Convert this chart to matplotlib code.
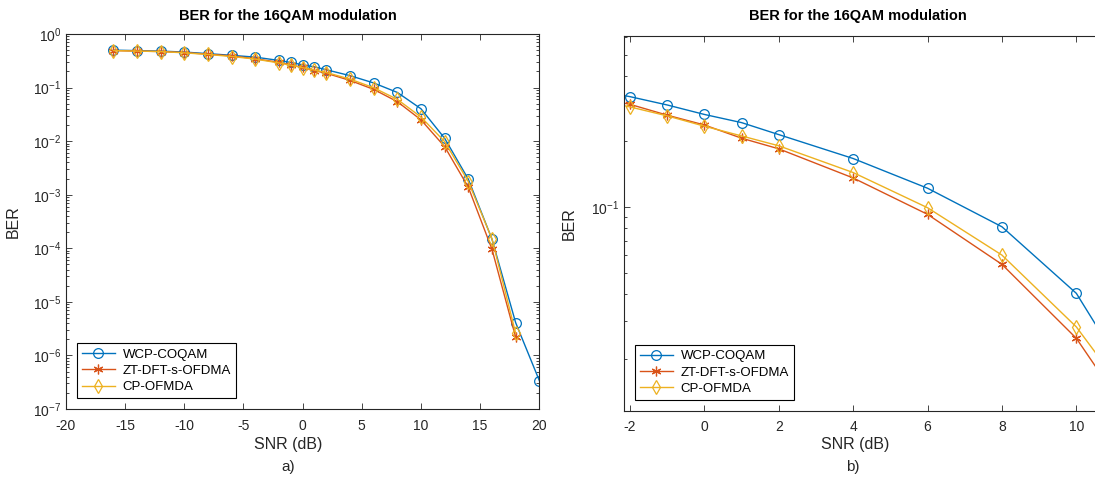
import numpy as np
import matplotlib
matplotlib.use("Agg")
import matplotlib.pyplot as plt
from matplotlib.ticker import LogLocator, NullFormatter

plt.rcParams['font.family'] = ['Liberation Sans', 'DejaVu Sans']
plt.rcParams['axes.unicode_minus'] = False

# SNR points (dB) and BER
snr = [-16, -14, -12, -10, -8, -6, -4, -2, -1, 0, 1, 2, 4, 6, 8, 10, 12, 14, 16, 18, 20]
ber_wcp = [0.50, 0.49, 0.48, 0.46, 0.43, 0.40, 0.37, 0.321, 0.294, 0.266, 0.244, 0.215,
           0.167, 0.122, 0.0812, 0.0402, 0.0113, 1.95e-3, 1.48e-4, 4.1e-6, 3.4e-7]
ber_zt = [0.49, 0.48, 0.47, 0.45, 0.42, 0.39, 0.345, 0.296, 0.264, 0.238, 0.207, 0.185,
          0.136, 0.0926, 0.0546, 0.025, 0.0079, 1.38e-3, 9.6e-5, 2.2e-6]
ber_cp = [0.49, 0.48, 0.47, 0.445, 0.415, 0.38, 0.34, 0.288, 0.262, 0.235, 0.212, 0.191,
          0.144, 0.0993, 0.0602, 0.0282, 0.0098, 1.76e-3, 1.5e-4, 2.6e-6]

labels = ['WCP-COQAM', 'ZT-DFT-s-OFDMA', 'CP-OFMDA']
colors = ['#0072BD', '#D95319', '#EDB120']
markers = ['o', (6, 2, 0), 'd']
title = 'BER for the 16QAM modulation'
dark = '#262626'

fig = plt.figure(figsize=(10.95, 4.79), dpi=100)
W, H = 1095, 479
ax1 = fig.add_axes([66 / W, (H - 409) / H, 473.3 / W, 375 / H])
ax2 = fig.add_axes([624 / W, (H - 410.7) / H, 14.16 * 37.2 / W, 375 / H])


def draw(ax):
    series = [ber_wcp, ber_zt, ber_cp]
    for ber, lab, c, m in zip(series, labels, colors, markers):
        ax.plot(snr[:len(ber)], ber, color=c, marker=m, markersize=7,
                markerfacecolor='none', markeredgewidth=0.9, linewidth=1.0, label=lab)
    ax.set_yscale('log')
    ax.tick_params(which='both', direction='in', top=True, right=True,
                   colors=dark, labelsize=10, width=0.6)
    ax.tick_params(which='major', length=4)
    ax.tick_params(which='minor', length=2)
    ax.tick_params(axis='x', pad=7)
    for s in ax.spines.values():
        s.set_color(dark)
        s.set_linewidth(0.8)
    ax.set_ylabel('BER', fontsize=11.5, color=dark)
    leg = ax.legend(loc='lower left', fontsize=9.5, fancybox=False, framealpha=1,
                    edgecolor='black', borderaxespad=0.8, handlelength=2.5,
                    handletextpad=0.6, borderpad=0.4, labelspacing=0.3)
    leg.get_frame().set_linewidth(0.8)


draw(ax1)
ax1.set_xlim(-20, 20)
ax1.set_ylim(1e-7, 1)
ax1.set_xticks(np.arange(-20, 21, 5))
ax1.yaxis.set_major_locator(LogLocator(base=10, numticks=10))
ax1.yaxis.set_minor_locator(LogLocator(base=10, subs=np.arange(2, 10), numticks=20))
ax1.yaxis.set_minor_formatter(NullFormatter())
ax1.yaxis.set_label_coords(-0.095, 0.5)

draw(ax2)
ax2.set_xlim(-2.16, 12)
ax2.set_ylim(0.01164, 0.611)
ax2.set_xticks(np.arange(-2, 11, 2))
ax2.yaxis.set_minor_locator(LogLocator(base=10, subs=np.arange(2, 10), numticks=20))
ax2.yaxis.set_minor_formatter(NullFormatter())
ax2.yaxis.set_label_coords(-0.09, 0.5)

fig.text(288 / W, 1 - 16 / H, title, fontsize=10.5, fontweight='bold', ha='center', va='center')
fig.text(858 / W, 1 - 16 / H, title, fontsize=10.5, fontweight='bold', ha='center', va='center')
fig.text(288 / W, 1 - 445 / H, 'SNR (dB)', fontsize=11.5, color=dark, ha='center', va='center')
fig.text(855 / W, 1 - 445 / H, 'SNR (dB)', fontsize=11.5, color=dark, ha='center', va='center')
fig.text(288 / W, 1 - 467 / H, 'a)', fontsize=11, color=dark, ha='center', va='center')
fig.text(853 / W, 1 - 467 / H, 'b)', fontsize=11, color=dark, ha='center', va='center')

fig.savefig('out.png', dpi=100)
